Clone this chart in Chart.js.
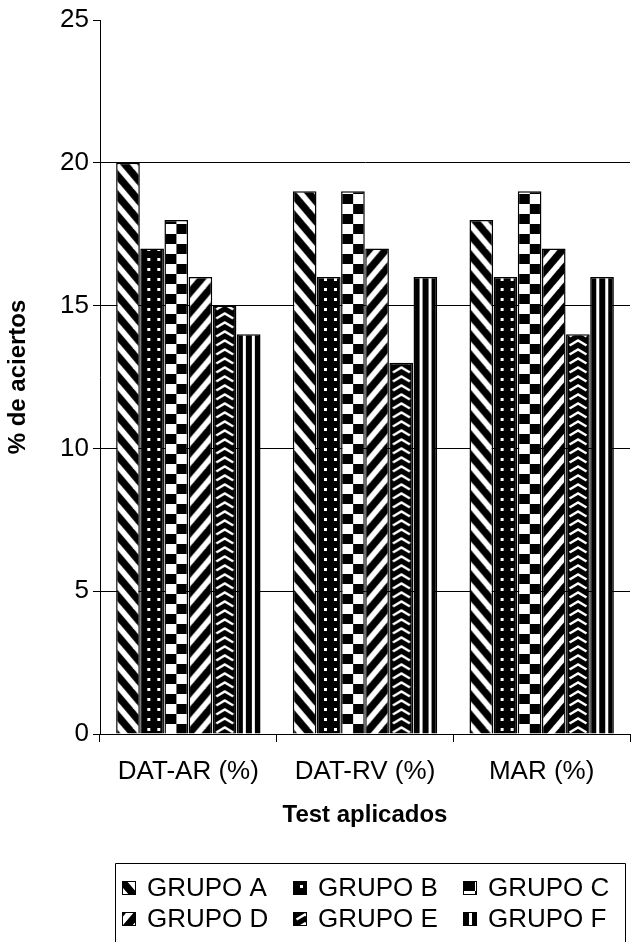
<!DOCTYPE html>
<html lang="es">
<head>
    <meta charset="UTF-8">
    <title>% de aciertos por test aplicado</title>
    <script src="https://cdn.jsdelivr.net/npm/chart.js"></script>
    <style>
        html, body {
            margin: 0;
            padding: 0;
            background: #fff;
        }
        #grafico {
            display: block;
        }
    </style>
</head>
<body>
    <canvas id="grafico" width="633" height="942"></canvas>
    <script>
        // datos
        const categorias = ['DAT-AR (%)', 'DAT-RV (%)', 'MAR (%)'];
        const grupos = ['GRUPO A', 'GRUPO B', 'GRUPO C', 'GRUPO D', 'GRUPO E', 'GRUPO F'];
        const grupoA = [20, 19, 18];
        const grupoB = [17, 16, 16];
        const grupoC = [18, 19, 19];
        const grupoD = [16, 17, 17];
        const grupoE = [15, 13, 14];
        const grupoF = [14, 16, 16];
        const valoresY = [0, 5, 10, 15, 20, 25];

        const series = [grupoA, grupoB, grupoC, grupoD, grupoE, grupoF];
        const tramas = ['diagInv', 'puntos', 'damero', 'diag', 'chevron', 'verticales'];

        const CAT_PCT = 0.82;
        const BAR_PCT = 0.98;

        Chart.defaults.font.family = "'Liberation Sans', Arial, sans-serif";
        Chart.defaults.color = '#000';

        // tramas en blanco y negro como en el original
        function crearTrama(tipo) {
            const c = document.createElement('canvas');
            const t = c.getContext('2d');
            if (tipo === 'diagInv' || tipo === 'diag') {
                const w = 17, h = 20, m = 4.8;
                c.width = w; c.height = h;
                t.fillStyle = '#fff';
                t.fillRect(0, 0, w, h);
                t.fillStyle = '#000';
                for (let k = -1; k <= 1; k++) {
                    t.beginPath();
                    if (tipo === 'diagInv') {
                        t.moveTo(k * w - m, 0); t.lineTo(k * w + m, 0);
                        t.lineTo(k * w + w + m, h); t.lineTo(k * w + w - m, h);
                    } else {
                        t.moveTo(k * w + w - m, 0); t.lineTo(k * w + w + m, 0);
                        t.lineTo(k * w + m, h); t.lineTo(k * w - m, h);
                    }
                    t.closePath();
                    t.fill();
                }
            } else if (tipo === 'puntos') {
                c.width = 10; c.height = 10;
                t.fillStyle = '#000';
                t.fillRect(0, 0, 10, 10);
                t.fillStyle = '#fff';
                t.fillRect(7, 4, 3, 3);
            } else if (tipo === 'damero') {
                c.width = 24; c.height = 20;
                t.fillStyle = '#fff';
                t.fillRect(0, 0, 24, 20);
                t.fillStyle = '#000';
                t.fillRect(0, 0, 12, 10);
                t.fillRect(12, 10, 12, 10);
            } else if (tipo === 'chevron') {
                c.width = 24; c.height = 9;
                t.fillStyle = '#000';
                t.fillRect(0, 0, 24, 9);
                t.strokeStyle = '#fff';
                t.lineWidth = 2.5;
                t.beginPath();
                t.moveTo(3.5, 7.5); t.lineTo(12, 2.5); t.lineTo(20.5, 7.5);
                t.stroke();
            } else if (tipo === 'verticales') {
                c.width = 24; c.height = 4;
                t.fillStyle = '#000';
                t.fillRect(0, 0, 24, 4);
                t.fillStyle = '#fff';
                t.fillRect(6, 0, 3, 4);
                t.fillRect(15, 0, 3, 4);
            }
            return c;
        }

        const baseTramas = tramas.map(crearTrama);

        // borde izquierdo de cada barra, sacado de la escala x
        function izquierdaBarra(chart, idx, dsIdx) {
            const x = chart.scales.x;
            const anchoCat = x.getPixelForValue(1) - x.getPixelForValue(0);
            const size = anchoCat * CAT_PCT;
            const chunk = size / series.length;
            const centro = x.getPixelForValue(idx) - size / 2 + chunk * dsIdx + chunk / 2;
            return centro - chunk * BAR_PCT / 2;
        }

        function relleno(i) {
            return function(c) {
                const chart = c.chart;
                const pat = chart.ctx.createPattern(baseTramas[i], 'repeat');
                if (c.type === 'data' && chart.scales.x && chart.chartArea) {
                    const x0 = izquierdaBarra(chart, c.dataIndex, c.datasetIndex);
                    pat.setTransform(new DOMMatrix().translate(x0, chart.chartArea.bottom));
                }
                return pat;
            };
        }

        // leyenda con recuadro, 3 columnas x 2 filas
        const LEYENDA = { left: 115, right: 625, top: 863, padX: 7, padY: 25, colW: 170.5, rowH: 30.5 };

        const leyendaRecuadro = {
            id: 'leyendaRecuadro',
            afterDraw(chart) {
                const ctx = chart.ctx;
                const L = LEYENDA;
                ctx.save();
                ctx.strokeStyle = '#000';
                ctx.lineWidth = 1;
                ctx.beginPath();
                ctx.moveTo(L.left + 0.5, chart.height);
                ctx.lineTo(L.left + 0.5, L.top + 0.5);
                ctx.lineTo(L.right + 0.5, L.top + 0.5);
                ctx.lineTo(L.right + 0.5, chart.height);
                ctx.stroke();
                chart.data.datasets.forEach((ds, i) => {
                    const col = i % 3;
                    const fila = Math.floor(i / 3);
                    const x = Math.round(L.left + L.padX + col * L.colW);
                    const y = Math.round(L.top + L.padY + fila * L.rowH);
                    const pat = ctx.createPattern(baseTramas[i], 'repeat');
                    pat.setTransform(new DOMMatrix().translate(x, y - 7));
                    ctx.fillStyle = pat;
                    ctx.fillRect(x, y - 7, 14, 14);
                    ctx.strokeRect(x + 0.5, y - 6.5, 13, 13);
                    ctx.fillStyle = '#000';
                    ctx.font = "26px 'Liberation Sans', Arial, sans-serif";
                    ctx.textBaseline = 'middle';
                    ctx.textAlign = 'left';
                    ctx.fillText(ds.label, x + 25, y + 1);
                });
                ctx.restore();
            }
        };

        const ctx = document.getElementById('grafico').getContext('2d');
        const chart = new Chart(ctx, {
            type: 'bar',
            data: {
                labels: categorias,
                datasets: grupos.map((g, i) => ({
                    label: g,
                    data: series[i],
                    backgroundColor: relleno(i),
                    borderColor: '#000',
                    borderWidth: 1.5,
                    categoryPercentage: CAT_PCT,
                    barPercentage: BAR_PCT
                }))
            },
            options: {
                responsive: false,
                animation: false,
                layout: {
                    padding: { top: 20, right: 3, bottom: 108, left: 0 }
                },
                plugins: {
                    legend: { display: false },
                    tooltip: { enabled: false }
                },
                scales: {
                    x: {
                        grid: { drawOnChartArea: false, tickLength: 8, color: '#000' },
                        border: { color: '#000', width: 1 },
                        ticks: { color: '#000', font: { size: 26 }, padding: 14, maxRotation: 0 },
                        title: {
                            display: true,
                            text: 'Test aplicados',
                            color: '#000',
                            font: { size: 24, weight: 'bold' },
                            padding: { top: 0, bottom: 4 }
                        },
                        afterFit: s => { s.height = 100; }
                    },
                    y: {
                        min: 0,
                        max: 25,
                        afterBuildTicks: s => { s.ticks = valoresY.map(v => ({ value: v })); },
                        grid: {
                            color: c => (c.tick && c.tick.value === 25 ? 'rgba(0,0,0,0)' : '#000'),
                            tickColor: '#000',
                            tickLength: 7
                        },
                        border: { color: '#000', width: 1 },
                        ticks: { color: '#000', font: { size: 26 }, padding: 4 },
                        title: {
                            display: true,
                            text: '% de aciertos',
                            color: '#000',
                            font: { size: 24, weight: 'bold' },
                            padding: { top: 4, bottom: 0 }
                        },
                        afterFit: s => { s.width = 100; }
                    }
                }
            },
            plugins: [leyendaRecuadro]
        });
    </script>
</body>
</html>
